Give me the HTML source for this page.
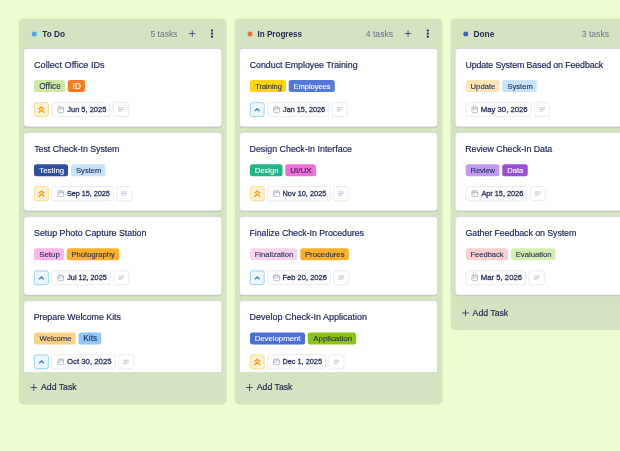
<!DOCTYPE html><html><head><meta charset="utf-8"><title>Board</title><style>html,body{width:620px;height:451px;overflow:hidden;background:#ecfdd0;margin:0}.board{transform:scale(0.25);transform-origin:0 0}*{box-sizing:border-box;margin:0;padding:0}
.board{position:absolute;left:0;top:0;width:3200px;height:1804px;font-family:"Liberation Sans",sans-serif;color:#1f2752}
.col{position:absolute;top:74px;width:832px;background:#d5e4c0;border-radius:20px}
.c0{left:75.2px}.c1{left:938.4px}.c2{left:1801.6px}
.hd{height:118.8px;position:relative}
.dot{position:absolute;left:51.6px;top:52px;width:20px;height:20px;border-radius:50%}
.nm{position:absolute;top:36.8px;font-weight:700;line-height:48px;white-space:nowrap}
.cnt{position:absolute;top:36.8px;line-height:48px;color:#67708e;white-space:nowrap}
.hd .plus{position:absolute;left:680.4px;top:47.2px;width:26.4px;height:26.4px}
.hd .dots{position:absolute;left:766.4px;top:41.6px;width:12px;height:36px}
.list{padding:0 19.2px 0 18.4px;overflow:hidden}
.c0 .list,.c1 .list{height:1295.2px}
.card{height:315.2px;background:#fff;border:2px solid #c6cbe9;border-radius:14px;margin-bottom:21.2px;box-shadow:0 2px 3px rgba(40,50,90,0.12);position:relative}
.tt{position:absolute;left:42px;top:39px;-webkit-text-stroke:0.72px #1c2359;font-size:36.4px;line-height:48px;white-space:nowrap;color:#1c2359}
.tags{position:absolute;left:40.8px;top:125.6px;display:flex;gap:11.4px}
.tag{-webkit-text-stroke:0.4px;height:48px;line-height:48px;border-radius:10px;font-size:31.6px;white-space:nowrap;overflow:visible}
.meta{position:absolute;left:40.8px;top:214px;display:flex;gap:11.2px;height:58.4px}
.pb{width:58.8px;height:58.4px;border-radius:10px;border:3px solid;display:flex;align-items:center;justify-content:center}
.pb.hi{background:#fff3d4;border-color:#fbd074}
.pb.md{background:#edf7fe;border-color:#7bc5f8}
.pr{width:40px;height:40px}
.date{position:relative;height:58.4px;border:2px solid #d2d6f1;border-radius:10px;font-size:30.4px;font-weight:400;color:#262d56;-webkit-text-stroke:1.08px #262d56;white-space:nowrap}
.date span{position:absolute;top:3.2px;line-height:48px}
.cal{position:absolute;left:20.4px;top:13.2px;width:27.6px;height:27.6px}
.db{width:62.8px;height:58.4px;border:2px solid #d2d6f1;border-radius:10px;display:flex;align-items:center;justify-content:center}
.dsc{width:31.2px;height:31.2px}
.ft{height:130.4px;position:relative;font-size:34.8px;font-weight:400;color:#2a3155;-webkit-text-stroke:0.88px #2a3155}
.ft .plus{position:absolute;left:46px;top:47.6px;width:28px;height:28px}
.ft span{position:absolute;left:88.8px;top:36.8px;line-height:48px}
.c2 .ft{height:129.6px;margin-top:-11.2px}
</style></head><body><div class="board"><div class="col c0"><div class="hd"><span class="dot" style="background:#45a5f7"></span><span class="nm" style="font-size:33.12px;letter-spacing:0px;left:93.68px">To Do</span><span class="cnt" style="font-size:33.84px;letter-spacing:0px;left:527.04px">5 tasks</span><svg class="plus" viewBox="0 0 10 10"><path d="M5 0.600v8.800M0.600 5h8.800" stroke="#333a74" stroke-width="1.250" fill="none" stroke-linecap="round"/></svg><svg class="dots" viewBox="0 0 4 12"><rect x="0.500" y="0.500" width="3" height="2.800" rx="1" fill="#252b6c"/><rect x="0.500" y="4.600" width="3" height="2.800" rx="1" fill="#252b6c"/><rect x="0.500" y="8.700" width="3" height="2.800" rx="1" fill="#252b6c"/></svg></div><div class="list"><div class="card"><div class="tt" style="font-size:36.4px;letter-spacing:0.14px;margin-left:-1.84px">Collect Office IDs</div><div class="tags"><span class="tag" style="background:#cfe8a3;color:#1f2752;width:123.2px;padding-left:20.28px;font-size:32.88px;letter-spacing:0.252px">Office</span><span class="tag" style="background:#f97a1f;color:#fff;width:68.8px;padding-left:18.64px;font-size:32.88px;letter-spacing:1.08px">ID</span></div><div class="meta"><span class="pb hi"><svg class="pr" viewBox="0 0 12 12"><path d="M3.300 5.500L6 2.900l2.700 2.600M3.300 9.300L6 6.700l2.700 2.600" fill="none" stroke="#f59a0b" stroke-width="1.700" stroke-linecap="round" stroke-linejoin="round"/></svg></span><span class="date" style="width:234.4px"><svg class="cal" viewBox="0 0 12 12"><rect x="1" y="1.8" width="10" height="9.4" rx="1.300" fill="none" stroke="#9a9fbf" stroke-width="1.150"/><path d="M1 4.700h10M3.800 0.900v1.400M8.200 0.900v1.400M3.400 7.400h1.200" fill="none" stroke="#9a9fbf" stroke-width="1.2" stroke-linecap="round"/></svg><span style="left:60.52px;font-size:29.96px;letter-spacing:0px">Jun 5, 2025</span></span><span class="db"><svg class="dsc" viewBox="0 0 12 12"><path d="M2.2 3.4h7.6M2.2 6h7.6M2.2 8.6h4.6" fill="none" stroke="#a9afd6" stroke-width="1.050" stroke-linecap="round"/></svg></span></div></div><div class="card"><div class="tt" style="font-size:35.32px;letter-spacing:-0.128px;margin-left:-0.72px">Test Check-In System</div><div class="tags"><span class="tag" style="background:#2f4fa0;color:#fff;width:136px;padding-left:20.96px;font-size:31.32px;letter-spacing:0px">Testing</span><span class="tag" style="background:#c6e3fb;color:#1f2752;width:137.2px;padding-left:20.4px;font-size:30.32px;letter-spacing:-0.004px">System</span></div><div class="meta"><span class="pb hi"><svg class="pr" viewBox="0 0 12 12"><path d="M3.300 5.500L6 2.900l2.700 2.600M3.300 9.300L6 6.700l2.700 2.600" fill="none" stroke="#f59a0b" stroke-width="1.700" stroke-linecap="round" stroke-linejoin="round"/></svg></span><span class="date" style="width:248px"><svg class="cal" viewBox="0 0 12 12"><rect x="1" y="1.8" width="10" height="9.4" rx="1.300" fill="none" stroke="#9a9fbf" stroke-width="1.150"/><path d="M1 4.700h10M3.800 0.900v1.400M8.200 0.900v1.400M3.400 7.400h1.200" fill="none" stroke="#9a9fbf" stroke-width="1.2" stroke-linecap="round"/></svg><span style="left:59.64px;font-size:29.2px;letter-spacing:-0.236px">Sep 15, 2025</span></span><span class="db"><svg class="dsc" viewBox="0 0 12 12"><path d="M2.2 3.4h7.6M2.2 6h7.6M2.2 8.6h4.6" fill="none" stroke="#a9afd6" stroke-width="1.050" stroke-linecap="round"/></svg></span></div></div><div class="card"><div class="tt" style="font-size:35.32px;letter-spacing:-0.004px;margin-left:-1.4px">Setup Photo Capture Station</div><div class="tags"><span class="tag" style="background:#f7b7ea;color:#1f2752;width:119.2px;padding-left:20.32px;font-size:31.52px;letter-spacing:0px">Setup</span><span class="tag" style="background:#fbb02a;color:#1f2752;width:209.6px;padding-left:19.16px;font-size:30.48px;letter-spacing:0px">Photography</span></div><div class="meta"><span class="pb md"><svg class="pr" viewBox="0 0 12 12"><path d="M3.700 7.200L6 5l2.300 2.200" fill="none" stroke="#2a74c8" stroke-width="1.500" stroke-linecap="round" stroke-linejoin="round"/></svg></span><span class="date" style="width:236px"><svg class="cal" viewBox="0 0 12 12"><rect x="1" y="1.8" width="10" height="9.4" rx="1.300" fill="none" stroke="#9a9fbf" stroke-width="1.150"/><path d="M1 4.700h10M3.800 0.900v1.400M8.200 0.900v1.400M3.400 7.400h1.200" fill="none" stroke="#9a9fbf" stroke-width="1.2" stroke-linecap="round"/></svg><span style="left:60.52px;font-size:29.2px;letter-spacing:-0.08px">Jul 12, 2025</span></span><span class="db"><svg class="dsc" viewBox="0 0 12 12"><path d="M2.2 3.4h7.6M2.2 6h7.6M2.2 8.6h4.6" fill="none" stroke="#a9afd6" stroke-width="1.050" stroke-linecap="round"/></svg></span></div></div><div class="card"><div class="tt" style="font-size:35.32px;letter-spacing:-0.092px;margin-left:-2.84px">Prepare Welcome Kits</div><div class="tags"><span class="tag" style="background:#fdd187;color:#1f2752;width:166.4px;padding-left:21.6px;font-size:30.92px;letter-spacing:0px">Welcome</span><span class="tag" style="background:#8fc7f7;color:#1f2752;width:91.2px;padding-left:18.96px;font-size:32.88px;letter-spacing:0.276px">Kits</span></div><div class="meta"><span class="pb md"><svg class="pr" viewBox="0 0 12 12"><path d="M3.700 7.200L6 5l2.300 2.200" fill="none" stroke="#2a74c8" stroke-width="1.500" stroke-linecap="round" stroke-linejoin="round"/></svg></span><span class="date" style="width:255.2px"><svg class="cal" viewBox="0 0 12 12"><rect x="1" y="1.8" width="10" height="9.4" rx="1.300" fill="none" stroke="#9a9fbf" stroke-width="1.150"/><path d="M1 4.700h10M3.800 0.900v1.400M8.200 0.900v1.400M3.400 7.400h1.200" fill="none" stroke="#9a9fbf" stroke-width="1.2" stroke-linecap="round"/></svg><span style="left:59.56px;font-size:31.16px;letter-spacing:0px">Oct 30, 2025</span></span><span class="db"><svg class="dsc" viewBox="0 0 12 12"><path d="M2.2 3.4h7.6M2.2 6h7.6M2.2 8.6h4.6" fill="none" stroke="#a9afd6" stroke-width="1.050" stroke-linecap="round"/></svg></span></div></div></div><div class="ft"><svg class="plus" viewBox="0 0 10 10"><path d="M5 0.600v8.800M0.600 5h8.800" stroke="#333a74" stroke-width="1.250" fill="none" stroke-linecap="round"/></svg><span>Add Task</span></div></div><div class="col c1"><div class="hd"><span class="dot" style="background:#e8743b"></span><span class="nm" style="font-size:32.6px;letter-spacing:-0.18px;left:92.04px">In Progress</span><span class="cnt" style="font-size:34.6px;letter-spacing:0.016px;left:524.52px">4 tasks</span><svg class="plus" viewBox="0 0 10 10"><path d="M5 0.600v8.800M0.600 5h8.800" stroke="#333a74" stroke-width="1.250" fill="none" stroke-linecap="round"/></svg><svg class="dots" viewBox="0 0 4 12"><rect x="0.500" y="0.500" width="3" height="2.800" rx="1" fill="#252b6c"/><rect x="0.500" y="4.600" width="3" height="2.800" rx="1" fill="#252b6c"/><rect x="0.500" y="8.700" width="3" height="2.800" rx="1" fill="#252b6c"/></svg></div><div class="list"><div class="card"><div class="tt" style="font-size:35.32px;letter-spacing:-0.108px;margin-left:-1.76px">Conduct Employee Training</div><div class="tags"><span class="tag" style="background:#ffd60a;color:#1f2752;width:144px;padding-left:21px;font-size:30.32px;letter-spacing:-0.196px">Training</span><span class="tag" style="background:#5478d8;color:#fff;width:184px;padding-left:19.16px;font-size:30.32px;letter-spacing:-0.24px">Employees</span></div><div class="meta"><span class="pb md"><svg class="pr" viewBox="0 0 12 12"><path d="M3.700 7.200L6 5l2.300 2.200" fill="none" stroke="#2a74c8" stroke-width="1.500" stroke-linecap="round" stroke-linejoin="round"/></svg></span><span class="date" style="width:246.4px"><svg class="cal" viewBox="0 0 12 12"><rect x="1" y="1.8" width="10" height="9.4" rx="1.300" fill="none" stroke="#9a9fbf" stroke-width="1.150"/><path d="M1 4.700h10M3.800 0.900v1.400M8.200 0.900v1.400M3.400 7.400h1.200" fill="none" stroke="#9a9fbf" stroke-width="1.2" stroke-linecap="round"/></svg><span style="left:60.52px;font-size:29.2px;letter-spacing:-0.02px">Jan 15, 2026</span></span><span class="db"><svg class="dsc" viewBox="0 0 12 12"><path d="M2.2 3.4h7.6M2.2 6h7.6M2.2 8.6h4.6" fill="none" stroke="#a9afd6" stroke-width="1.050" stroke-linecap="round"/></svg></span></div></div><div class="card"><div class="tt" style="font-size:35.48px;letter-spacing:0px;margin-left:-2.84px">Design Check-In Interface</div><div class="tags"><span class="tag" style="background:#1fb587;color:#fff;width:130.4px;padding-left:19.16px;font-size:30.64px;letter-spacing:0px">Design</span><span class="tag" style="background:#ef6fd6;color:#1f2752;width:122.4px;padding-left:19.36px;font-size:32.24px;letter-spacing:0px">UI/UX</span></div><div class="meta"><span class="pb hi"><svg class="pr" viewBox="0 0 12 12"><path d="M3.300 5.500L6 2.900l2.700 2.600M3.300 9.300L6 6.700l2.700 2.600" fill="none" stroke="#f59a0b" stroke-width="1.700" stroke-linecap="round" stroke-linejoin="round"/></svg></span><span class="date" style="width:251.2px"><svg class="cal" viewBox="0 0 12 12"><rect x="1" y="1.8" width="10" height="9.4" rx="1.300" fill="none" stroke="#9a9fbf" stroke-width="1.150"/><path d="M1 4.700h10M3.800 0.900v1.400M8.200 0.900v1.400M3.400 7.400h1.200" fill="none" stroke="#9a9fbf" stroke-width="1.2" stroke-linecap="round"/></svg><span style="left:58.44px;font-size:29.48px;letter-spacing:0px">Nov 10, 2025</span></span><span class="db"><svg class="dsc" viewBox="0 0 12 12"><path d="M2.2 3.4h7.6M2.2 6h7.6M2.2 8.6h4.6" fill="none" stroke="#a9afd6" stroke-width="1.050" stroke-linecap="round"/></svg></span></div></div><div class="card"><div class="tt" style="font-size:35.32px;letter-spacing:-0.196px;margin-left:-2.84px">Finalize Check-In Procedures</div><div class="tags"><span class="tag" style="background:#f9d3ee;color:#1f2752;width:189.6px;padding-left:19.16px;font-size:30.56px;letter-spacing:0px">Finalization</span><span class="tag" style="background:#fbb02a;color:#1f2752;width:194.4px;padding-left:19.12px;font-size:31px;letter-spacing:0px">Procedures</span></div><div class="meta"><span class="pb md"><svg class="pr" viewBox="0 0 12 12"><path d="M3.700 7.200L6 5l2.300 2.200" fill="none" stroke="#2a74c8" stroke-width="1.500" stroke-linecap="round" stroke-linejoin="round"/></svg></span><span class="date" style="width:253.6px"><svg class="cal" viewBox="0 0 12 12"><rect x="1" y="1.8" width="10" height="9.4" rx="1.300" fill="none" stroke="#9a9fbf" stroke-width="1.150"/><path d="M1 4.700h10M3.800 0.900v1.400M8.200 0.900v1.400M3.400 7.400h1.200" fill="none" stroke="#9a9fbf" stroke-width="1.2" stroke-linecap="round"/></svg><span style="left:58.4px;font-size:30.2px;letter-spacing:0px">Feb 20, 2026</span></span><span class="db"><svg class="dsc" viewBox="0 0 12 12"><path d="M2.2 3.4h7.6M2.2 6h7.6M2.2 8.6h4.6" fill="none" stroke="#a9afd6" stroke-width="1.050" stroke-linecap="round"/></svg></span></div></div><div class="card"><div class="tt" style="font-size:35.96px;letter-spacing:0px;margin-left:-2.88px">Develop Check-In Application</div><div class="tags"><span class="tag" style="background:#4a6fd6;color:#fff;width:220px;padding-left:19.12px;font-size:31.08px;letter-spacing:-0px">Development</span><span class="tag" style="background:#8cc414;color:#1f2752;width:193.6px;padding-left:21.6px;font-size:31.92px;letter-spacing:0px">Application</span></div><div class="meta"><span class="pb hi"><svg class="pr" viewBox="0 0 12 12"><path d="M3.300 5.500L6 2.900l2.700 2.600M3.300 9.300L6 6.700l2.700 2.600" fill="none" stroke="#f59a0b" stroke-width="1.700" stroke-linecap="round" stroke-linejoin="round"/></svg></span><span class="date" style="width:233.6px"><svg class="cal" viewBox="0 0 12 12"><rect x="1" y="1.8" width="10" height="9.4" rx="1.300" fill="none" stroke="#9a9fbf" stroke-width="1.150"/><path d="M1 4.700h10M3.800 0.900v1.400M8.200 0.900v1.400M3.400 7.400h1.200" fill="none" stroke="#9a9fbf" stroke-width="1.2" stroke-linecap="round"/></svg><span style="left:58.44px;font-size:29.28px;letter-spacing:0px">Dec 1, 2025</span></span><span class="db"><svg class="dsc" viewBox="0 0 12 12"><path d="M2.2 3.4h7.6M2.2 6h7.6M2.2 8.6h4.6" fill="none" stroke="#a9afd6" stroke-width="1.050" stroke-linecap="round"/></svg></span></div></div></div><div class="ft"><svg class="plus" viewBox="0 0 10 10"><path d="M5 0.600v8.800M0.600 5h8.800" stroke="#333a74" stroke-width="1.250" fill="none" stroke-linecap="round"/></svg><span>Add Task</span></div></div><div class="col c2"><div class="hd"><span class="dot" style="background:#3f5fc8"></span><span class="nm" style="font-size:33.48px;letter-spacing:0px;left:92px">Done</span><span class="cnt" style="font-size:34.24px;letter-spacing:-0px;left:525.76px">3 tasks</span><svg class="plus" viewBox="0 0 10 10"><path d="M5 0.600v8.800M0.600 5h8.800" stroke="#333a74" stroke-width="1.250" fill="none" stroke-linecap="round"/></svg><svg class="dots" viewBox="0 0 4 12"><rect x="0.500" y="0.500" width="3" height="2.800" rx="1" fill="#252b6c"/><rect x="0.500" y="4.600" width="3" height="2.800" rx="1" fill="#252b6c"/><rect x="0.500" y="8.700" width="3" height="2.800" rx="1" fill="#252b6c"/></svg></div><div class="list"><div class="card"><div class="tt" style="font-size:35.32px;letter-spacing:-0.472px;margin-left:-2.48px">Update System Based on Feedback</div><div class="tags"><span class="tag" style="background:#fde5b8;color:#1f2752;width:135.2px;padding-left:19.44px;font-size:30.8px;letter-spacing:0px">Update</span><span class="tag" style="background:#c6e3fb;color:#1f2752;width:137.2px;padding-left:20.4px;font-size:30.32px;letter-spacing:-0.004px">System</span></div><div class="meta"><span class="date" style="width:263.2px"><svg class="cal" viewBox="0 0 12 12"><rect x="1" y="1.8" width="10" height="9.4" rx="1.300" fill="none" stroke="#9a9fbf" stroke-width="1.150"/><path d="M1 4.700h10M3.800 0.900v1.400M8.200 0.900v1.400M3.400 7.400h1.200" fill="none" stroke="#9a9fbf" stroke-width="1.2" stroke-linecap="round"/></svg><span style="left:58.32px;font-size:30.96px;letter-spacing:-0px">May 30, 2026</span></span><span class="db"><svg class="dsc" viewBox="0 0 12 12"><path d="M2.2 3.4h7.6M2.2 6h7.6M2.2 8.6h4.6" fill="none" stroke="#a9afd6" stroke-width="1.050" stroke-linecap="round"/></svg></span></div></div><div class="card"><div class="tt" style="font-size:35.32px;letter-spacing:-0.188px;margin-left:-2.84px">Review Check-In Data</div><div class="tags"><span class="tag" style="background:#c39af0;color:#1f2752;width:135.2px;padding-left:19.16px;font-size:30.32px;letter-spacing:-0.256px">Review</span><span class="tag" style="background:#9b4fd8;color:#fff;width:101.6px;padding-left:19.16px;font-size:30.64px;letter-spacing:0px">Data</span></div><div class="meta"><span class="date" style="width:245.6px"><svg class="cal" viewBox="0 0 12 12"><rect x="1" y="1.8" width="10" height="9.4" rx="1.300" fill="none" stroke="#9a9fbf" stroke-width="1.150"/><path d="M1 4.700h10M3.800 0.900v1.400M8.200 0.900v1.400M3.400 7.400h1.200" fill="none" stroke="#9a9fbf" stroke-width="1.2" stroke-linecap="round"/></svg><span style="left:60.8px;font-size:29.24px;letter-spacing:0px">Apr 15, 2026</span></span><span class="db"><svg class="dsc" viewBox="0 0 12 12"><path d="M2.2 3.4h7.6M2.2 6h7.6M2.2 8.6h4.6" fill="none" stroke="#a9afd6" stroke-width="1.050" stroke-linecap="round"/></svg></span></div></div><div class="card"><div class="tt" style="font-size:35.32px;letter-spacing:-0.268px;margin-left:-1.76px">Gather Feedback on System</div><div class="tags"><span class="tag" style="background:#fad0d3;color:#1f2752;width:169.6px;padding-left:19.16px;font-size:30.32px;letter-spacing:-0.1px">Feedback</span><span class="tag" style="background:#d3eeb0;color:#1f2752;width:178.4px;padding-left:19.16px;font-size:30.72px;letter-spacing:0px">Evaluation</span></div><div class="meta"><span class="date" style="width:240.8px"><svg class="cal" viewBox="0 0 12 12"><rect x="1" y="1.8" width="10" height="9.4" rx="1.300" fill="none" stroke="#9a9fbf" stroke-width="1.150"/><path d="M1 4.700h10M3.800 0.900v1.400M8.200 0.900v1.400M3.400 7.400h1.200" fill="none" stroke="#9a9fbf" stroke-width="1.2" stroke-linecap="round"/></svg><span style="left:58.32px;font-size:30.96px;letter-spacing:0px">Mar 5, 2026</span></span><span class="db"><svg class="dsc" viewBox="0 0 12 12"><path d="M2.2 3.4h7.6M2.2 6h7.6M2.2 8.6h4.6" fill="none" stroke="#a9afd6" stroke-width="1.050" stroke-linecap="round"/></svg></span></div></div></div><div class="ft"><svg class="plus" viewBox="0 0 10 10"><path d="M5 0.600v8.800M0.600 5h8.800" stroke="#333a74" stroke-width="1.250" fill="none" stroke-linecap="round"/></svg><span>Add Task</span></div></div></div></body></html>
